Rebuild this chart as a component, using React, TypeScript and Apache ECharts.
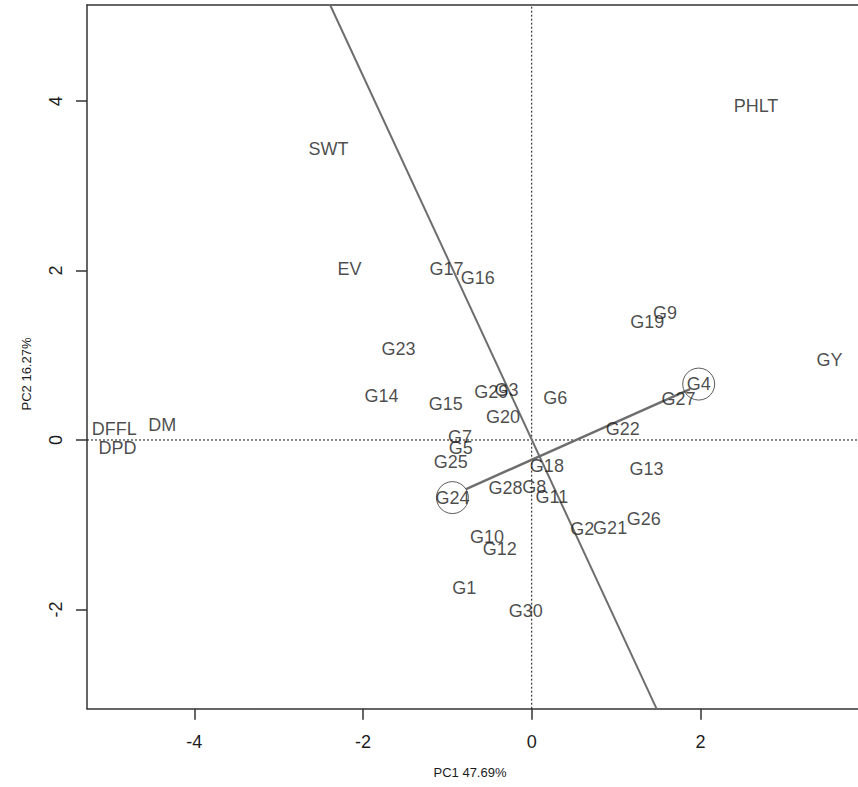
import React, { useEffect, useRef } from "react";
import * as echarts from "echarts";

// Genotype scores (PC1, PC2)
const genotypes = [
  "G1", "G2", "G3", "G4", "G5", "G6", "G7", "G8", "G9", "G10",
  "G11", "G12", "G13", "G14", "G15", "G16", "G17", "G18", "G19", "G20",
  "G21", "G22", "G23", "G24", "G25", "G26", "G27", "G28", "G29", "G30",
];
const genotypePC1 = [
  -0.80, 0.60, -0.30, 1.98, -0.84, 0.28, -0.85, 0.03, 1.58, -0.53,
  0.24, -0.38, 1.36, -1.78, -1.02, -0.64, -1.01, 0.18, 1.37, -0.34,
  0.93, 1.08, -1.58, -0.94, -0.96, 1.33, 1.74, -0.31, -0.48, -0.07,
];
const genotypePC2 = [
  -1.75, -1.05, 0.59, 0.66, -0.095, 0.49, 0.035, -0.555, 1.50, -1.15,
  -0.67, -1.29, -0.34, 0.52, 0.42, 1.91, 2.02, -0.31, 1.39, 0.27,
  -1.04, 0.13, 1.08, -0.68, -0.26, -0.93, 0.48, -0.57, 0.57, -2.02,
];

// Trait scores (PC1, PC2)
const traits = ["PHLT", "SWT", "EV", "GY", "DFFL", "DPD", "DM"];
const traitPC1 = [2.66, -2.41, -2.16, 3.53, -4.95, -4.91, -4.38];
const traitPC2 = [3.94, 3.43, 2.02, 0.94, 0.13, -0.095, 0.18];

// Genotypes being compared
const compared = ["G4", "G24"];

// Connector between the compared genotypes and its perpendicular through the origin
const connectorLine = [[-0.778, -0.579], [1.878, 0.601]];
const perpendicularLine = [[-2.39, 5.135], [1.48, -3.172]];

// Axis extents and tick values
const xRange = [-5.273, 3.869];
const yRange = [-3.172, 5.135];
const xTicks = [-4, -2, 0, 2];
const yTicks = [-2, 0, 2, 4];
const xTitle = "PC1 47.69%";
const yTitle = "PC2 16.27%";

const FONT = "'Liberation Sans', Arial, sans-serif";
const INK = "#1c1c1c";

export default function App() {
  const ref = useRef<HTMLDivElement>(null);

  useEffect(() => {
    if (!ref.current) return;
    const chart = echarts.init(ref.current, null, { renderer: "svg" });

    const genoData = genotypes.map((name, i) => ({
      name,
      value: [genotypePC1[i], genotypePC2[i]],
    }));
    const traitData = traits.map((name, i) => ({
      name,
      value: [traitPC1[i], traitPC2[i]],
    }));
    const circleData = compared.map((name) => {
      const i = genotypes.indexOf(name);
      return { name, value: [genotypePC1[i], genotypePC2[i]] };
    });

    const labelStyle = {
      show: true,
      position: "inside",
      formatter: "{b}",
      fontSize: 18,
      fontFamily: FONT,
      color: INK,
    };

    chart.setOption({
      animation: false,
      backgroundColor: "#ffffff",
      grid: { left: 87, top: 5, width: 771, bottom: 78.3, containLabel: false },
      xAxis: [
        {
          type: "value",
          min: xRange[0],
          max: xRange[1],
          position: "bottom",
          axisLine: { show: true, onZero: false, lineStyle: { color: "#333", width: 1.5 } },
          axisTick: {
            show: true,
            customValues: xTicks,
            length: 11,
            lineStyle: { color: "#333", width: 1.5 },
          },
          axisLabel: {
            customValues: xTicks,
            fontSize: 18,
            fontFamily: FONT,
            color: INK,
            margin: 24,
          },
          splitLine: { show: false },
        },
        {
          type: "value",
          min: xRange[0],
          max: xRange[1],
          position: "top",
          axisLine: { show: true, onZero: false, lineStyle: { color: "#333", width: 1.5 } },
          axisTick: { show: false },
          axisLabel: { show: false },
          splitLine: { show: false },
        },
      ],
      yAxis: {
        type: "value",
        min: yRange[0],
        max: yRange[1],
        position: "left",
        axisLine: { show: true, onZero: false, lineStyle: { color: "#333", width: 1.5 } },
        axisTick: {
          show: true,
          customValues: yTicks,
          length: 11,
          lineStyle: { color: "#333", width: 1.5 },
        },
        axisLabel: {
          customValues: yTicks,
          rotate: 90,
          fontSize: 18,
          fontFamily: FONT,
          color: INK,
          margin: 22,
        },
        splitLine: { show: false },
      },
      graphic: [
        {
          type: "text",
          x: 470,
          y: 772,
          style: {
            text: xTitle,
            fontSize: 13,
            fontFamily: FONT,
            fill: INK,
            textAlign: "center",
            textVerticalAlign: "middle",
          },
        },
        {
          type: "text",
          x: 26,
          y: 374,
          rotation: Math.PI / 2,
          style: {
            text: yTitle,
            fontSize: 13,
            fontFamily: FONT,
            fill: INK,
            textAlign: "center",
            textVerticalAlign: "middle",
          },
        },
      ],
      series: [
        {
          type: "line",
          data: [[xRange[0], 0], [xRange[1], 0]],
          symbol: "none",
          lineStyle: { color: "#111", width: 1, type: [2, 2] },
          silent: true,
          z: 1,
        },
        {
          type: "line",
          data: [[0, yRange[0]], [0, yRange[1]]],
          symbol: "none",
          lineStyle: { color: "#111", width: 1, type: [2, 2] },
          silent: true,
          z: 1,
        },
        {
          type: "line",
          data: perpendicularLine,
          symbol: "none",
          clip: true,
          lineStyle: { color: "#6e6e6e", width: 2 },
          z: 2,
        },
        {
          type: "line",
          data: connectorLine,
          symbol: "none",
          clip: true,
          lineStyle: { color: "#6e6e6e", width: 2.5 },
          z: 2,
        },
        {
          type: "scatter",
          data: circleData,
          symbol: "circle",
          symbolSize: 32,
          itemStyle: { color: "rgba(0,0,0,0)", borderColor: "#333", borderWidth: 1 },
          z: 3,
        },
        {
          type: "scatter",
          data: genoData,
          symbol: "circle",
          symbolSize: 1,
          itemStyle: { color: "rgba(0,0,0,0)" },
          label: labelStyle,
          z: 4,
        },
        {
          type: "scatter",
          data: traitData,
          symbol: "circle",
          symbolSize: 1,
          itemStyle: { color: "rgba(0,0,0,0)" },
          label: labelStyle,
          z: 4,
        },
      ],
    });

    return () => chart.dispose();
  }, []);

  return (
    <div
      ref={ref}
      style={{ position: "fixed", left: 0, top: 0, width: 858, height: 787, background: "#fff" }}
    />
  );
}
